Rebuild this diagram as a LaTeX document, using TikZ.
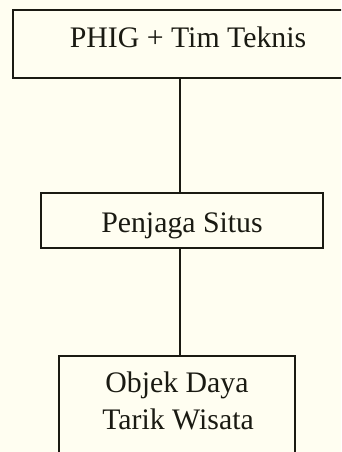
\documentclass[tikz,border=0pt]{standalone}
\usepackage{fontspec}
\setmainfont{Liberation Serif}
\definecolor{bgcream}{HTML}{FFFEF1}
\definecolor{ink}{HTML}{1A1A12}
\begin{document}
\begin{tikzpicture}[x=1pt,y=1pt,
  box/.style={draw=ink, line width=1.8pt, rectangle, inner sep=0pt},
  lbl/.style={text=ink, inner sep=0pt, font=\fontsize{29.8}{36.7}\selectfont, align=center},
  conn/.style={draw=ink, line width=1.8pt}]
\useasboundingbox (0,0) rectangle (341,-452);
\fill[bgcream] (0,0) rectangle (341,-452);
\clip (0,0) rectangle (341,-452);
\node[box, minimum width=350, minimum height=68] (phig) at (188,-44) {};
\node[lbl, anchor=base] (phigt) at (188,-48) {PHIG + Tim Teknis};
\node[box, minimum width=282, minimum height=55] (pen) at (182,-220.5) {};
\node[lbl, anchor=base] (pent) at (182,-232) {Penjaga Situs};
\node[box, minimum width=236, minimum height=114] (obj) at (177,-413) {};
\node[lbl, anchor=base] (objt1) at (177,-392.7) {Objek Daya};
\node[lbl, anchor=base] (objt2) at (178,-429.3) {Tarik Wisata};
\coordinate (c1) at (180,0);
\draw[conn] (phig.south -| c1) -- (pen.north -| c1);
\draw[conn] (pen.south -| c1) -- (obj.north -| c1);
\end{tikzpicture}
\end{document}
